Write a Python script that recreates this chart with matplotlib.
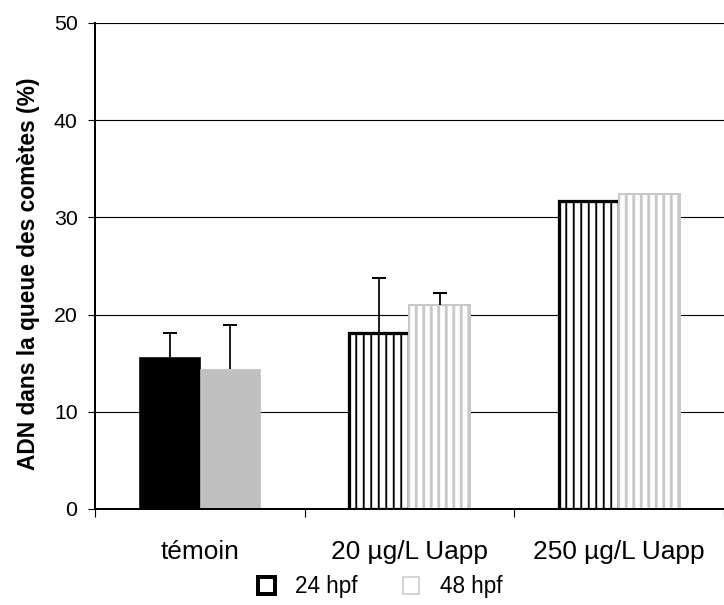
import numpy as np
import matplotlib
matplotlib.use("Agg")
import matplotlib.pyplot as plt
from matplotlib.patches import Patch

plt.rcParams['font.family'] = ['Liberation Sans', 'DejaVu Sans']

# Data: % DNA in comet tail, per exposure group and stage
groups = ["témoin", "20 µg/L Uapp", "250 µg/L Uapp"]
series = ["24 hpf", "48 hpf"]
adn_24hpf = [15.6, 18.1, 31.7]
adn_48hpf = [14.4, 21.0, 32.4]
err_24hpf = [2.5, 5.7, np.nan]
err_48hpf = [4.5, 1.2, np.nan]
y_ticks = [0, 10, 20, 30, 40, 50]

DPI = 90
fig = plt.figure(figsize=(724 / DPI, 605 / DPI), dpi=DPI)
ax = fig.add_axes([95 / 724, 1 - 509 / 605, 1 - 95 / 724, (509 - 23) / 605])

x = np.arange(len(groups))
w = 0.288

# Style per (group, series): solid for control, vertical stripes for exposed
def bar_style(gi, si):
    if gi == 0:
        if si == 0:
            return dict(color="black", edgecolor="black", linewidth=0.5)
        return dict(color="#c0c0c0", edgecolor="#c0c0c0", linewidth=0.5)
    if si == 0:
        return dict(facecolor="white", edgecolor="black", linewidth=2.6, hatch="||")
    return dict(facecolor="white", edgecolor="#c8c8c8", linewidth=1.6, hatch="||")

hatch_lw = {0: 1.5, 1: 2.3}
values = [adn_24hpf, adn_48hpf]
errors = [err_24hpf, err_48hpf]
offsets = [-w / 2, w / 2]

for si in range(2):
    for gi in range(len(groups)):
        with plt.rc_context({'hatch.linewidth': hatch_lw[si]}):
            ax.bar(x[gi] + offsets[si], values[si][gi], width=w, zorder=2,
                   **bar_style(gi, si))

# Upper error bars only
for si in range(2):
    for gi in range(len(groups)):
        e = errors[si][gi]
        if np.isfinite(e):
            eb = ax.errorbar(x[gi] + offsets[si], values[si][gi],
                             yerr=[[0], [e]], fmt='none', ecolor='black',
                             elinewidth=1.4, capsize=5.5, capthick=1.6, zorder=3)
            eb[1][0].set_visible(False)

ax.set_ylim(0, 50)
ax.set_xlim(-0.5, -0.5 + 629 / 212)
ax.set_yticks(y_ticks)
ax.tick_params(axis='y', labelsize=17, length=6, width=0.9, pad=8)
ax.yaxis.grid(True, color='black', linewidth=0.9)
ax.set_axisbelow(True)

# Category boundary ticks, labels centred on groups
ax.set_xticks(np.arange(-0.5, len(groups), 1.0))
ax.set_xticklabels([])
ax.tick_params(axis='x', which='major', length=6.5, width=0.9)
ax.set_xticks(x, minor=True)
ax.set_xticklabels(groups, minor=True, fontsize=21)
ax.tick_params(axis='x', which='minor', length=0, pad=25)

for s in ['top', 'right']:
    ax.spines[s].set_visible(False)
ax.spines['left'].set_linewidth(1.6)
ax.spines['bottom'].set_linewidth(1.6)

ax.set_ylabel("ADN dans la queue des comètes (%)", fontsize=18.2,
              fontweight='bold')
ax.yaxis.set_label_coords(-0.088, 0.485)

handles = [Patch(facecolor='white', edgecolor='black', linewidth=3.2),
           Patch(facecolor='white', edgecolor='#c8c8c8', linewidth=1.2)]
fig.legend(handles, series, loc='center', bbox_to_anchor=(0.525, 1 - 587 / 605),
           ncol=2, frameon=False, fontsize=18, handlelength=0.75,
           handleheight=0.75, handletextpad=0.9, columnspacing=2.0)

fig.savefig("out.png", dpi=DPI)
